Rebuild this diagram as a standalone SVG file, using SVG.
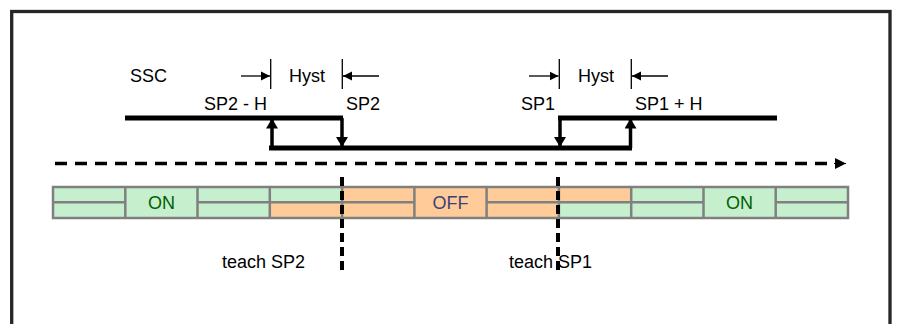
<svg xmlns="http://www.w3.org/2000/svg" width="900" height="324" viewBox="0 0 900 324">
<style>
.t{font-family:"Liberation Sans",Arial,sans-serif;font-size:18px;fill:#000}
.lab{fill:#000}
.thick{stroke:#000;stroke-width:5;fill:none;stroke-linecap:butt}
.vert{stroke:#000;stroke-width:3.5;fill:none}
.thin{stroke:#000;stroke-width:1.3;fill:none}
.green{fill:#C6EFCE}
.orange{fill:#FFCC99}
.grid{stroke:#808080;stroke-width:2.5;fill:none}
.on{font-family:"Liberation Sans",Arial,sans-serif;font-size:18px;fill:#006100}
.off{font-family:"Liberation Sans",Arial,sans-serif;font-size:18px;fill:#3F3F76}
</style>
<defs>
<marker id="ah" markerUnits="userSpaceOnUse" markerWidth="12" markerHeight="12" refX="10" refY="6" orient="auto">
<path d="M0,0 L10,6 L0,12 Z" fill="#000"/>
</marker>
<marker id="sh" markerUnits="userSpaceOnUse" markerWidth="10" markerHeight="10" refX="9" refY="5" orient="auto">
<path d="M0,0.5 L9,5 L0,9.5 Z" fill="#000"/>
</marker>
<marker id="dh" markerUnits="userSpaceOnUse" markerWidth="12" markerHeight="12" refX="11" refY="6" orient="auto">
<path d="M0,0.5 L11,6 L0,11.5 Z" fill="#000"/>
</marker>
</defs>
<rect width="900" height="324" fill="#fff"/>
<rect id="frame" x="11.7" y="11.5" width="878.3" height="330" fill="none" stroke="#262626" stroke-width="3.3"/>

<g id="bar">
<rect class="green" x="53" y="187" width="217" height="31"/>
<rect class="green" x="270" y="187" width="72" height="15"/>
<rect class="orange" x="270" y="202" width="72" height="16"/>
<rect class="orange" x="342" y="187" width="217" height="31"/>
<rect class="orange" x="559" y="187" width="72" height="15"/>
<rect class="green" x="559" y="202" width="72" height="16"/>
<rect class="green" x="631" y="187" width="217" height="31"/>
<rect class="grid" x="53" y="187" width="795" height="31"/>
<path class="grid" d="M125.3,187V218M197.5,187V218M269.8,187V218M342.1,187V218M414.4,187V218M486.6,187V218M558.9,187V218M631.2,187V218M703.5,187V218M775.7,187V218"/>
<path class="grid" d="M53,202.3H125.3M197.5,202.3H414.4M486.6,202.3H703.5M775.7,202.3H848"/>
<text class="on" x="161.4" y="208.5" text-anchor="middle">ON</text>
<text class="off" x="450.5" y="208.5" text-anchor="middle">OFF</text>
<text class="on" x="739.6" y="208.5" text-anchor="middle">ON</text>
</g>

<g id="connectors">
<path class="thick" d="M125,118H343"/>
<path class="thick" d="M269,148H632"/>
<path class="thick" d="M558,118H777"/>
<line class="vert" x1="272" y1="148" x2="272" y2="118.5" marker-end="url(#ah)"/>
<line class="vert" x1="342" y1="118" x2="342" y2="147" marker-end="url(#ah)"/>
<line class="vert" x1="560" y1="118" x2="560" y2="147" marker-end="url(#ah)"/>
<line class="vert" x1="630.5" y1="148" x2="630.5" y2="118.5" marker-end="url(#ah)"/>
<path d="M55,163.5H836" stroke="#000" stroke-width="3.5" stroke-dasharray="12 8" fill="none"/>
<line x1="834" y1="163.5" x2="846" y2="163.5" stroke="#000" stroke-width="1" marker-end="url(#dh)"/>
<line class="thin" x1="270.7" y1="59" x2="270.7" y2="89"/>
<line class="thin" x1="342.3" y1="59" x2="342.3" y2="89"/>
<line class="thin" x1="241" y1="76" x2="270" y2="76" marker-end="url(#sh)"/>
<line class="thin" x1="379" y1="76" x2="343" y2="76" marker-end="url(#sh)"/>
<line class="thin" x1="559.3" y1="59" x2="559.3" y2="89"/>
<line class="thin" x1="631.3" y1="59" x2="631.3" y2="89"/>
<line class="thin" x1="529" y1="76" x2="558.5" y2="76" marker-end="url(#sh)"/>
<line class="thin" x1="668" y1="76" x2="632" y2="76" marker-end="url(#sh)"/>
<line x1="342" y1="177" x2="342" y2="275" stroke="#000" stroke-width="4" stroke-dasharray="9 5"/>
<line x1="558" y1="177" x2="558" y2="275" stroke="#000" stroke-width="4" stroke-dasharray="9 5"/>
</g>

<g id="labels">
<text class="t" x="130" y="82">SSC</text>
<text class="t" x="289" y="82">Hyst</text>
<text class="t" x="578" y="82">Hyst</text>
<text class="t" x="267" y="109.5" text-anchor="end">SP2 - H</text>
<text class="t" x="346" y="109.5">SP2</text>
<text class="t" x="555" y="109.5" text-anchor="end">SP1</text>
<text class="t" x="635" y="109.5">SP1 + H</text>
<text class="t" x="305" y="267.5" text-anchor="end">teach SP2</text>
<text class="t" x="509" y="267.5">teach SP1</text>
</g>
</svg>
